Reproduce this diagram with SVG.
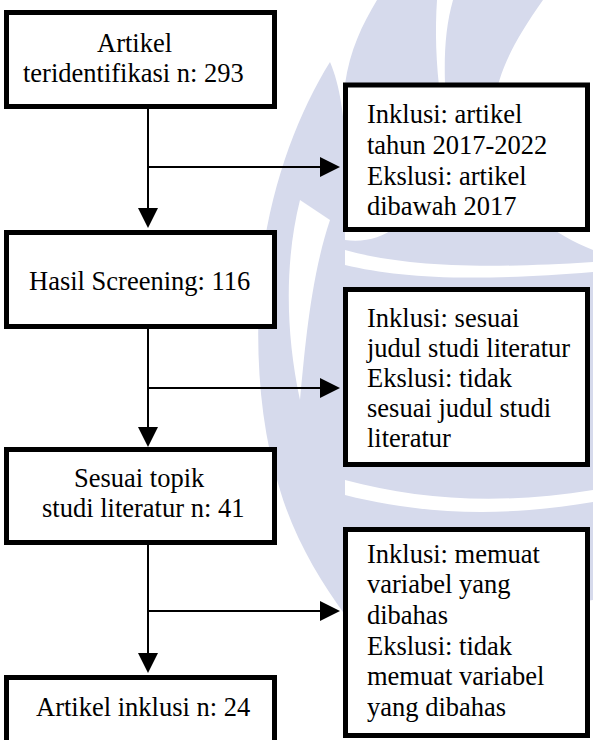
<svg xmlns="http://www.w3.org/2000/svg" width="593" height="740" viewBox="0 0 593 740">
<rect width="593" height="740" fill="#fff"/>
<g id="watermark" fill="#d6daec">
<path d="M330,62 C300,110 272,180 262,260 C254,340 258,420 280,490 C295,540 320,580 345,615 L345,150 C345,120 340,85 330,62 Z"/>
<path d="M377,0 L437,0 C433,60 440,130 470,232 L345,232 L345,84 C350,50 362,25 377,0 Z"/>
<path d="M453,0 L543,0 C515,40 498,70 493,110 C488,170 520,220 593,250 L593,600 C520,610 430,612 345,560 L345,240 C420,250 450,150 445,84 C444,50 446,25 453,0 Z"/>
<path fill="#fff" d="M345,250 C400,265 470,270 593,262 L593,272 C470,282 400,278 345,265 Z"/>
<path fill="#fff" d="M345,480 C420,500 500,505 593,490 L593,502 C500,518 420,514 345,495 Z"/>
<path fill="#fff" d="M300,200 C285,260 285,330 300,400 C305,350 310,280 330,220 Z"/>
</g>
<g id="connectors">
<path d="M148,109 V210 M148,167 H322 M148,329 V429 M148,388 H322 M148,545 V655 M148,611 H322" stroke="#000" stroke-width="2" fill="none"/>
<path d="M138,208 L158,208 L148,228 Z M138,427 L158,427 L148,447 Z M138,653 L158,653 L148,673 Z M320,157 L340,167 L320,177 Z M320,378 L340,388 L320,398 Z M320,601 L340,611 L320,621 Z" fill="#000"/>
</g>
<g id="n1">
<rect fill="#fff" stroke="#000" stroke-width="5" x="6.5" y="12.5" width="268" height="94"/>
<text font-family="Liberation Serif" font-size="26.5" x="97" y="52">Artikel</text>
<text font-family="Liberation Serif" font-size="26.5" x="23" y="82">teridentifikasi n: 293</text>
</g>
<g id="n2">
<rect fill="#fff" stroke="#000" stroke-width="5" x="6.5" y="232.5" width="268" height="94"/>
<text font-family="Liberation Serif" font-size="26.5" x="29" y="290">Hasil Screening: 116</text>
</g>
<g id="n3">
<rect fill="#fff" stroke="#000" stroke-width="5" x="6.5" y="449.5" width="268" height="93"/>
<text font-family="Liberation Serif" font-size="26.5" x="74" y="487">Sesuai topik</text>
<text font-family="Liberation Serif" font-size="26.5" x="42" y="517">studi literatur n: 41</text>
</g>
<g id="n4">
<rect fill="#fff" stroke="#000" stroke-width="5" x="6.5" y="677.5" width="268" height="70"/>
<text font-family="Liberation Serif" font-size="26.5" x="36" y="716">Artikel inklusi n: 24</text>
</g>
<g id="e1">
<rect fill="#fff" stroke="#000" stroke-width="5" x="345.5" y="85" width="242" height="144.5"/>
<text font-family="Liberation Serif" font-size="26.5" x="367" y="123">Inklusi: artikel</text>
<text font-family="Liberation Serif" font-size="26.5" x="367" y="154">tahun 2017-2022</text>
<text font-family="Liberation Serif" font-size="26.5" x="367" y="185">Ekslusi: artikel</text>
<text font-family="Liberation Serif" font-size="26.5" x="367" y="215">dibawah 2017</text>
</g>
<g id="e2">
<rect fill="#fff" stroke="#000" stroke-width="5" x="345.5" y="289.5" width="242" height="175"/>
<text font-family="Liberation Serif" font-size="26.5" x="367" y="327">Inklusi: sesuai</text>
<text font-family="Liberation Serif" font-size="26.5" x="367" y="357">judul studi literatur</text>
<text font-family="Liberation Serif" font-size="26.5" x="367" y="387">Ekslusi: tidak</text>
<text font-family="Liberation Serif" font-size="26.5" x="367" y="417">sesuai judul studi</text>
<text font-family="Liberation Serif" font-size="26.5" x="367" y="447">literatur</text>
</g>
<g id="e3">
<rect fill="#fff" stroke="#000" stroke-width="5" x="345.5" y="529.5" width="242" height="206"/>
<text font-family="Liberation Serif" font-size="26.5" x="367" y="563">Inklusi: memuat</text>
<text font-family="Liberation Serif" font-size="26.5" x="367" y="593">variabel yang</text>
<text font-family="Liberation Serif" font-size="26.5" x="367" y="624">dibahas</text>
<text font-family="Liberation Serif" font-size="26.5" x="367" y="655">Ekslusi: tidak</text>
<text font-family="Liberation Serif" font-size="26.5" x="367" y="685">memuat variabel</text>
<text font-family="Liberation Serif" font-size="26.5" x="367" y="716">yang dibahas</text>
</g>
</svg>
